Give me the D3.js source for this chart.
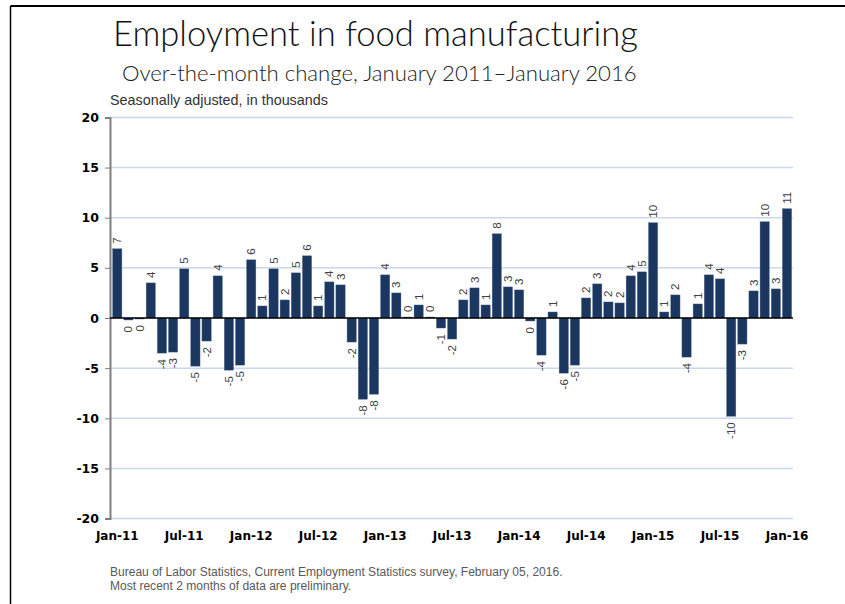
<!DOCTYPE html>
<html>
<head>
<meta charset="utf-8">
<script src="https://cdn.jsdelivr.net/npm/d3@7/dist/d3.min.js"></script>
<style>
  html, body { margin: 0; padding: 0; background: #fff; }
  svg { display: block; }
</style>
</head>
<body>
<svg id="chart" width="845" height="604"></svg>
<script>
// ---- data ----
const months = [
  "Jan-11","Feb-11","Mar-11","Apr-11","May-11","Jun-11","Jul-11","Aug-11","Sep-11","Oct-11","Nov-11","Dec-11",
  "Jan-12","Feb-12","Mar-12","Apr-12","May-12","Jun-12","Jul-12","Aug-12","Sep-12","Oct-12","Nov-12","Dec-12",
  "Jan-13","Feb-13","Mar-13","Apr-13","May-13","Jun-13","Jul-13","Aug-13","Sep-13","Oct-13","Nov-13","Dec-13",
  "Jan-14","Feb-14","Mar-14","Apr-14","May-14","Jun-14","Jul-14","Aug-14","Sep-14","Oct-14","Nov-14","Dec-14",
  "Jan-15","Feb-15","Mar-15","Apr-15","May-15","Jun-15","Jul-15","Aug-15","Sep-15","Oct-15","Nov-15","Dec-15",
  "Jan-16"
];
const changes = [
  6.9, -0.2, -0.1, 3.5, -3.5, -3.4, 4.9, -4.8, -2.3, 4.2, -5.2, -4.7,
  5.8, 1.2, 4.9, 1.8, 4.5, 6.2, 1.2, 3.6, 3.3, -2.4, -8.1, -7.6,
  4.3, 2.5, 0.1, 1.3, 0.1, -1.0, -2.1, 1.8, 3.0, 1.3, 8.4, 3.1,
  2.8, -0.3, -3.7, 0.6, -5.5, -4.7, 2.0, 3.4, 1.6, 1.5, 4.2, 4.6,
  9.5, 0.6, 2.3, -3.9, 1.4, 4.3, 3.9, -9.8, -2.6, 2.7, 9.6, 2.9,
  10.9
];
const valueLabels = [
  "7","0","0","4","-4","-3","5","-5","-2","4","-5","-5",
  "6","1","5","2","5","6","1","4","3","-2","-8","-8",
  "4","3","0","1","0","-1","-2","2","3","1","8","3",
  "3","0","-4","1","-6","-5","2","3","2","2","4","5",
  "10","1","2","-4","1","4","4","-10","-3","3","10","3",
  "11"
];
const xTickLabels = ["Jan-11","Jul-11","Jan-12","Jul-12","Jan-13","Jul-13","Jan-14","Jul-14","Jan-15","Jul-15","Jan-16"];
const yTicks = [20, 15, 10, 5, 0, -5, -10, -15, -20];

const titleText = "Employment in food manufacturing";
const subtitleText = "Over-the-month change, January 2011\u2013January 2016";
const unitText = "Seasonally adjusted, in thousands";
const sourceLines = [
  "Bureau of Labor Statistics, Current Employment Statistics survey, February 05, 2016.",
  "Most recent 2 months of data are preliminary."
];

// ---- layout ----
const svg = d3.select("#chart");
const axisX = 110, plotRight = 793;

const x = d3.scaleBand()
  .domain(months)
  .range([111.7, 792.6])
  .paddingInner(0.17)
  .paddingOuter(0.085);

const y = d3.scaleLinear().domain([-20, 20]).range([518.6, 117.4]);

// frame
svg.append("line").attr("x1", 10.5).attr("x2", 845).attr("y1", 6).attr("y2", 6)
  .attr("stroke", "#000").attr("stroke-width", 2);
svg.append("line").attr("x1", 10.5).attr("x2", 10.5).attr("y1", 6).attr("y2", 604)
  .attr("stroke", "#000").attr("stroke-width", 1.5);

// titles (fit to widths seen in reference)
function fitText(sel, targetW) {
  const w = sel.node().getComputedTextLength();
  const fs = parseFloat(sel.attr("font-size"));
  sel.attr("font-size", (fs * targetW / w).toFixed(2));
}
const t1 = svg.append("text").attr("x", 113).attr("y", 46)
  .attr("font-family", "Lato, 'Liberation Sans', Arial, sans-serif").attr("font-weight", 300)
  .attr("font-size", 30).attr("fill", "#111").text(titleText);
fitText(t1, 525);
const t2 = svg.append("text").attr("x", 122).attr("y", 80.5)
  .attr("font-family", "Lato, 'Liberation Sans', Arial, sans-serif").attr("font-weight", 300)
  .attr("font-size", 19).attr("fill", "#222").text(subtitleText);
fitText(t2, 515);
const t3 = svg.append("text").attr("x", 110).attr("y", 105)
  .attr("font-family", "'Liberation Sans', Arial, sans-serif").attr("font-size", 13)
  .attr("fill", "#333").text(unitText);
fitText(t3, 218);

// gridlines
svg.append("g").selectAll("line").data(yTicks.filter(d => d !== 0)).join("line")
  .attr("x1", axisX).attr("x2", plotRight)
  .attr("y1", d => y(d)).attr("y2", d => y(d))
  .attr("stroke", "#c9d8ec").attr("stroke-width", 1.5);

// y axis
const yAxis = d3.axisLeft(y).tickValues(yTicks).tickSize(5).tickPadding(6).tickFormat(d3.format("d"));
const gy = svg.append("g").attr("transform", `translate(${axisX},0)`).call(yAxis);
gy.select(".domain").attr("stroke", "#7f7f7f").attr("stroke-width", 2);
gy.selectAll(".tick line").attr("stroke", "#7f7f7f").attr("stroke-width", 1);
gy.selectAll(".tick text")
  .attr("font-family", "'DejaVu Sans', sans-serif").attr("font-weight", "bold")
  .attr("font-size", 12.5).attr("fill", "#000")
  .text(d => d < 0 ? "-" + Math.abs(d) : d);

// bars
svg.append("g").selectAll("rect").data(months).join("rect")
  .attr("x", (d) => x(d))
  .attr("width", x.bandwidth())
  .attr("y", (d, i) => y(Math.max(0, changes[i])))
  .attr("height", (d, i) => Math.abs(y(changes[i]) - y(0)))
  .attr("fill", "#1b365f")
  .attr("stroke", "#5b7396").attr("stroke-width", 0.4);

// zero line
svg.append("line").attr("x1", axisX).attr("x2", plotRight)
  .attr("y1", y(0)).attr("y2", y(0))
  .attr("stroke", "#000").attr("stroke-width", 1.5);

// value labels
svg.append("g").selectAll("text").data(months).join("text")
  .attr("transform", (d, i) => {
    const cx = x(d) + x.bandwidth() / 2;
    const v = changes[i];
    const yy = v >= 0 ? y(v) - 5 : y(v) + 6;
    return `translate(${cx},${yy}) rotate(-90)`;
  })
  .attr("text-anchor", (d, i) => changes[i] >= 0 ? "start" : "end")
  .attr("dy", "0.35em")
  .attr("font-family", "'Liberation Sans', Arial, sans-serif")
  .attr("font-size", 11.5)
  .attr("fill", "#404040")
  .text((d, i) => valueLabels[i]);

// x axis labels
const xAxis = d3.axisBottom(x)
  .tickValues(months.filter((d, i) => i % 6 === 0))
  .tickSize(0).tickPadding(0);
const gx = svg.append("g").attr("transform", `translate(0,${y(-20) + 13})`).call(xAxis);
gx.select(".domain").remove();
gx.selectAll(".tick text")
  .attr("font-family", "'DejaVu Sans', sans-serif").attr("font-weight", "bold")
  .attr("font-size", 12).attr("fill", "#000")
  .text((d, i) => xTickLabels[i]);

// source
const src = svg.append("g").selectAll("text").data(sourceLines).join("text")
  .attr("x", 110).attr("y", (d, i) => 576 + i * 14)
  .attr("font-family", "'Liberation Sans', Arial, sans-serif")
  .attr("font-size", 10.5).attr("fill", "#595959")
  .text(d => d);
fitText(d3.select(src.nodes()[0]), 453);
d3.select(src.nodes()[1]).attr("font-size", d3.select(src.nodes()[0]).attr("font-size"));
</script>
</body>
</html>
